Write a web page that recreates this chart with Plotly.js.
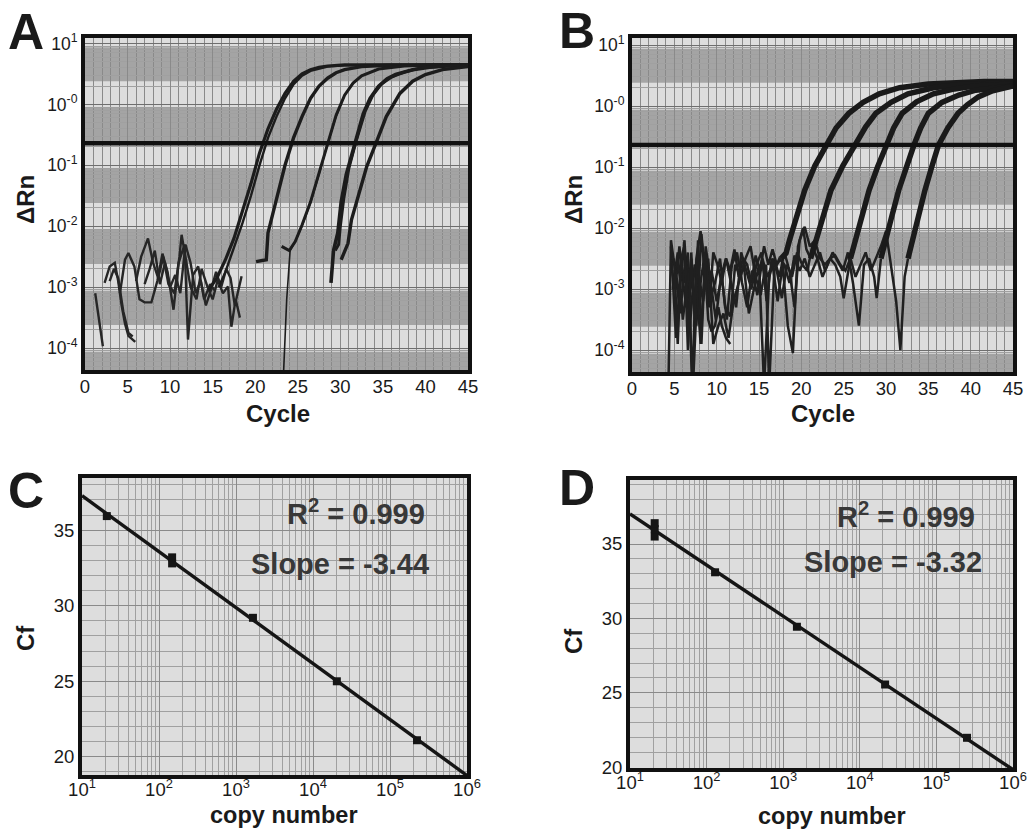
<!DOCTYPE html>
<html>
<head>
<meta charset="utf-8">
<script src="https://cdn.plot.ly/plotly-3.0.1.min.js"></script>
<style>
html,body{margin:0;padding:0;background:#fff;}
#chart{width:1033px;height:832px;}
</style>
</head>
<body>
<div id="chart"></div>
<script>
// ---------- Panel A : amplification curves, cycle vs log10(ΔRn) ----------
const A_g1a_x = [14.5,15.5,16.5,17.5,18.5,19.5,20.5,21.5,22.5,23.5,24.5,25.5,26.5,27.5,28.5,30.5,33.5,36.5,40.5,45];
const A_g1a_y = [-3.05,-2.85,-2.55,-2.2,-1.75,-1.3,-0.8,-0.4,-0.08,0.18,0.38,0.5,0.57,0.61,0.63,0.65,0.65,0.65,0.65,0.65];
const A_g1b_x = [15.7,16.5,17.5,18.5,19.5,20.5,21.5,22.5,23.5,24.5,25.5,26.5,28.5,30.5,35.5,40.5,45];
const A_g1b_y = [-3.0,-2.75,-2.35,-1.95,-1.5,-1.0,-0.55,-0.2,0.1,0.33,0.47,0.55,0.62,0.64,0.65,0.65,0.65];
const A_g2_x = [20.1,21.3,21.5,22.5,23.5,24.5,25.5,26.5,27.5,28.5,29.5,30.5,32.5,35.5,40.5,45];
const A_g2_y = [-2.58,-2.55,-2.11,-1.55,-1.0,-0.55,-0.2,0.1,0.3,0.43,0.52,0.57,0.62,0.64,0.65,0.65];
const A_g3a_x = [23.3,23.7,24.1,24.7,25.5,26.5,27.5,28.5,29.5,30.5,31.5,32.5,34.5,37.5,41.5,45];
const A_g3a_y = [-4.5,-3.2,-2.4,-2.25,-2.0,-1.62,-1.15,-0.65,-0.2,0.15,0.35,0.47,0.58,0.63,0.65,0.65];
const A_g3b_x = [23.1,24.0,24.7,25.5,26.5,27.5,28.5,29.5,30.5,31.5,32.5,34.5,37.5,41.5,45];
const A_g3b_y = [-2.33,-2.4,-2.25,-1.98,-1.6,-1.12,-0.62,-0.18,0.15,0.35,0.47,0.58,0.63,0.65,0.65];
const A_g4a_x = [28.9,29.2,29.7,30.1,30.7,31.7,32.7,33.5,34.5,35.5,36.5,38.5,40.5,42.5,45];
const A_g4a_y = [-2.93,-2.4,-2.11,-1.6,-1.15,-0.64,-0.15,0.1,0.3,0.42,0.49,0.57,0.61,0.63,0.64];
const A_g4b_x = [29.4,29.8,30.0,30.4,31.0,31.9,32.9,33.8,34.8,36.0,37.5,39.5,42.5,45];
const A_g4b_y = [-2.4,-2.3,-2.0,-1.55,-1.05,-0.58,-0.12,0.15,0.33,0.45,0.53,0.6,0.63,0.64];
const A_g5_x = [30.1,30.9,31.3,32.0,33.1,34.2,35.4,37.0,38.5,40.0,42.0,45];
const A_g5_y = [-2.55,-2.28,-1.9,-1.57,-1.02,-0.63,-0.2,0.18,0.38,0.49,0.57,0.62];
// baseline noise
const A_n1_x = [1.2,1.5,1.8,2.1];
const A_n1_y = [-3.1,-3.4,-3.7,-3.97];
const A_n2_x = [2.3,2.9,3.5,3.9,4.3,4.7,5.1,5.5,5.9];
const A_n2_y = [-2.93,-2.66,-2.6,-2.9,-3.3,-3.6,-3.8,-3.85,-3.9];
const A_n3_x = [4.1,4.7,5.1,5.8,6.4,7.0,7.8,8.5,9.1,9.7,10.4,11.0,11.7,12.1,12.7,13.3,14.0,14.7,15.2];
const A_n3_y = [-3.1,-2.55,-2.44,-2.66,-3.2,-3.25,-3.25,-2.9,-2.45,-2.75,-3.37,-2.6,-2.3,-3.86,-2.8,-2.66,-3.2,-2.95,-3.05];
const A_n4_x = [6.0,6.6,7.4,8.0,8.6,9.2,9.8,10.5,11.1,11.35,11.8,12.4,13.1,13.7,14.4,15.0,15.6,16.2,16.8,17.2,17.7,18.2];
const A_n4_y = [-2.9,-2.5,-2.2,-2.6,-2.85,-2.5,-2.95,-3.1,-2.5,-2.14,-2.5,-3.0,-3.2,-2.7,-3.0,-3.2,-2.88,-3.1,-2.99,-3.65,-3.2,-3.5];
const A_n5_x = [7.0,7.6,8.2,8.8,9.4,10.0,10.6,11.2,11.8,12.4,13.0,13.6,14.2,14.8,15.4,16.0,16.6,17.1,17.6,18.4];
const A_n5_y = [-2.95,-2.7,-2.4,-2.95,-2.6,-3.0,-2.8,-3.1,-2.3,-2.6,-3.1,-2.9,-3.3,-3.05,-2.75,-3.0,-2.7,-2.85,-3.3,-2.82];
const A_n6_x = [2.9,3.4,3.9,4.5,5.1,5.6];
const A_n6_y = [-2.9,-2.7,-2.85,-3.4,-3.75,-3.81];
const A_threshold = 0.23;

// ---------- Panel B ----------
const B_g1_x = [17.6,18.2,18.6,19.6,20.4,21.6,22.9,24.1,25.6,27.3,29.2,31.6,35.0,38.6,41.6,45];
const B_g1_y = [-2.5,-2.41,-2.2,-1.75,-1.38,-0.98,-0.64,-0.36,-0.12,0.06,0.2,0.3,0.36,0.39,0.4,0.4];
const B_g2_x = [21.1,21.7,22.6,23.5,24.9,26.3,27.6,28.8,30.6,32.6,35.6,38.6,41.6,45];
const B_g2_y = [-2.5,-2.2,-1.8,-1.38,-0.98,-0.64,-0.34,-0.12,0.06,0.2,0.3,0.35,0.37,0.38];
const B_g3_x = [25.8,26.4,27.2,28.0,29.0,30.0,30.9,31.9,33.6,35.6,38.1,40.6,42.6,45];
const B_g3_y = [-2.5,-2.2,-1.8,-1.38,-1.0,-0.64,-0.36,-0.12,0.07,0.2,0.28,0.33,0.35,0.36];
const B_g4_x = [29.4,29.9,30.7,31.5,32.4,33.3,34.1,35.0,36.6,38.6,40.6,42.6,45];
const B_g4_y = [-2.5,-2.2,-1.8,-1.38,-1.0,-0.64,-0.36,-0.12,0.06,0.18,0.26,0.3,0.33];
const B_g5_x = [32.6,33.1,33.8,34.6,35.4,36.2,37.3,38.5,39.6,40.9,42.6,44.4,45];
const B_g5_y = [-2.5,-2.2,-1.8,-1.38,-1.0,-0.64,-0.36,-0.12,0.02,0.15,0.25,0.32,0.33];
const B_n1_x = [4.6,5.1,5.6,6.1,6.6,7.1,7.6,8.1,8.6,9.1,9.6,10.1,10.6,11.1,11.6,12.1,12.6,13.1,13.6,14.1,14.6,15.1,15.6,16.1,16.6,17.1,17.6];
const B_n1_y = [-2.6,-3.0,-2.3,-2.9,-2.4,-4.6,-2.5,-2.05,-2.7,-3.3,-2.4,-2.6,-2.9,-2.5,-2.7,-2.35,-2.8,-2.5,-2.6,-2.9,-2.45,-2.7,-2.3,-2.6,-2.35,-2.6,-2.5];
const B_n2_x = [4.6,5.2,5.8,6.4,7.0,7.6,8.2,8.8,9.4,10.0,10.6,11.2,11.8,12.4,13.0,13.6,14.2,14.8,15.4,16.0,16.6,17.2,17.8,18.4,19.0,19.6,20.2,20.6,21.1];
const B_n2_y = [-2.3,-3.8,-2.6,-3.3,-2.5,-3.6,-2.1,-3.0,-2.7,-3.2,-2.8,-3.5,-2.6,-2.4,-2.9,-3.3,-2.7,-3.1,-2.5,-2.8,-2.6,-3.2,-2.6,-3.6,-4.05,-2.3,-2.0,-2.35,-2.5];
const B_n3_x = [4.8,5.4,6.0,6.6,7.2,7.8,8.4,9.0,9.6,10.2,10.8,11.4,12.0,12.6,13.2,13.8,14.4,15.0,15.6,16.2,16.8,17.4,18.0,18.6,19.2,19.8,20.4,21.0,21.6,22.2,22.8,23.4,24.0,24.6,25.0,25.8];
const B_n3_y = [-3.0,-2.4,-3.5,-2.8,-4.6,-2.7,-3.2,-2.5,-3.9,-3.6,-3.4,-3.8,-3.2,-2.9,-2.6,-3.4,-3.0,-2.6,-4.6,-2.8,-2.5,-2.8,-2.4,-2.7,-3.3,-2.2,-1.98,-2.3,-2.2,-2.5,-2.6,-2.5,-2.6,-2.8,-3.15,-2.5];
const B_n4_x = [5.1,5.7,6.3,6.9,7.5,8.1,8.7,9.3,9.9,10.5,11.1,11.7,12.3,12.9,13.5,14.1,14.7,15.3,15.9,16.5,17.1,17.7,18.3,18.9,19.5,20.1,20.7,21.3,21.9,22.5,23.1,23.7,24.3,24.9,25.5,26.1,26.8,27.4,28.0,28.6,28.9,29.4];
const B_n4_y = [-2.7,-3.4,-2.5,-3.0,-2.6,-3.9,-2.3,-2.9,-3.5,-2.8,-2.5,-2.9,-3.3,-2.4,-2.7,-3.0,-2.6,-2.4,-3.2,-2.5,-2.7,-3.15,-2.6,-2.8,-2.4,-2.6,-2.7,-2.3,-2.5,-2.8,-2.6,-2.4,-2.55,-2.7,-2.4,-2.9,-3.6,-2.6,-2.5,-2.8,-3.15,-2.5];
const B_n5_x = [4.9,5.6,6.2,6.8,7.4,8.0,8.6,9.2,9.8,10.4,11.0,11.6,12.2,12.8,13.4,14.0,14.6,15.2,15.8,16.2,16.8,17.4,18.0,18.6,19.2,19.8,20.4,21.0,21.6,22.2,22.8,23.4,24.0,24.6,25.2,25.8,26.4,27.0,27.6,28.2,28.8,29.4,30.0,30.6,31.2,31.7,32.2,32.6];
const B_n5_y = [-2.5,-3.1,-2.2,-3.7,-2.6,-3.0,-2.4,-3.2,-2.9,-2.5,-3.3,-3.45,-2.6,-2.8,-2.5,-2.3,-2.8,-3.1,-2.6,-4.6,-2.7,-2.5,-2.6,-2.9,-2.45,-2.7,-2.5,-2.8,-2.6,-2.4,-2.7,-2.5,-2.45,-2.6,-2.7,-2.5,-2.8,-2.6,-2.4,-2.7,-2.5,-2.3,-2.05,-2.6,-3.2,-4.0,-2.8,-2.5];
const B_n6_x = [4.3,4.6,5.0,5.4,5.8,6.2,6.6,7.0,7.4,7.8,8.2,8.6,9.0,9.4,9.8,10.2,10.6,11.1,11.6];
const B_n6_y = [-4.6,-2.2,-2.6,-3.9,-2.5,-2.3,-4.0,-2.4,-3.5,-2.2,-3.9,-2.6,-3.5,-3.7,-3.6,-3.3,-3.6,-3.8,-3.9];
const B_threshold = 0.23;

// ---------- Panels C and D : standard curves ----------
const C_copies = [21, 148, 148, 1660, 20400, 224000];
const C_cf     = [35.93, 32.8, 33.2, 29.2, 25.0, 21.1];
const D_copies = [21, 21, 21, 129, 1510, 21400, 251000];
const D_cf     = [35.5, 36.0, 36.4, 33.1, 29.44, 25.56, 21.98];
const C_text = ['R<sup>2</sup> = 0.999', 'Slope = -3.44'];
const D_text = ['R<sup>2</sup> = 0.999', 'Slope = -3.32'];

const cycleTicks = [0,5,10,15,20,25,30,35,40,45];
const rnTickVals = [1e-4,1e-3,1e-2,1e-1,1,10];
const rnTickText = ['10<sup>-4</sup>','10<sup>-3</sup>','10<sup>-2</sup>','10<sup>-1</sup>','10<sup>-0</sup>','10<sup>1</sup>'];
const copyTickVals = [1e1,1e2,1e3,1e4,1e5,1e6];
const copyTickText = ['10<sup>1</sup>','10<sup>2</sup>','10<sup>3</sup>','10<sup>4</sup>','10<sup>5</sup>','10<sup>6</sup>'];

// ---------- build ----------
const FONT = 'Arial, "Liberation Sans", Helvetica, sans-serif';
const lin = a => a.map(v => Math.pow(10, v));
const traces = [];
function line(x, ylog, ax, w, col) {
  traces.push({type:'scatter', mode:'lines', x:x, y:lin(ylog), xaxis:ax[0], yaxis:ax[1],
    line:{color:col||'#1c1c1c', width:w, shape:'linear'}, hoverinfo:'skip', cliponaxis:true});
}
const axA = ['x','y'], axB = ['x2','y2'];
[[A_n1_x,A_n1_y],[A_n2_x,A_n2_y],[A_n3_x,A_n3_y],[A_n4_x,A_n4_y],[A_n5_x,A_n5_y],[A_n6_x,A_n6_y]]
  .forEach(p => line(p[0], p[1], axA, 2.4, '#262626'));
line(A_g1a_x, A_g1a_y, axA, 3.2);
line(A_g1b_x, A_g1b_y, axA, 2.4);
line(A_g2_x, A_g2_y, axA, 3.4);
line(A_g3a_x, A_g3a_y, axA, 1.6);
line(A_g3b_x, A_g3b_y, axA, 3.0);
line(A_g4a_x, A_g4a_y, axA, 3.6);
line(A_g4b_x, A_g4b_y, axA, 3.0);
line(A_g5_x, A_g5_y, axA, 3.4);

[[B_n1_x,B_n1_y],[B_n2_x,B_n2_y],[B_n3_x,B_n3_y],[B_n4_x,B_n4_y],[B_n5_x,B_n5_y],[B_n6_x,B_n6_y]]
  .forEach(p => line(p[0], p[1], axB, 2.5, '#202020'));
[[B_g1_x,B_g1_y],[B_g2_x,B_g2_y],[B_g3_x,B_g3_y],[B_g4_x,B_g4_y],[B_g5_x,B_g5_y]]
  .forEach(p => line(p[0], p[1], axB, 5.5, '#1a1a1a'));

function fit(copies, cf) {
  const lx = copies.map(v => Math.log10(v));
  const n = lx.length;
  const mx = lx.reduce((s,v)=>s+v,0)/n, my = cf.reduce((s,v)=>s+v,0)/n;
  let sxy=0, sxx=0;
  for (let i=0;i<n;i++){ sxy += (lx[i]-mx)*(cf[i]-my); sxx += (lx[i]-mx)*(lx[i]-mx); }
  const b = sxy/sxx, a = my - b*mx;
  return {a:a, b:b};
}
function stdCurve(copies, cf, xa, ya) {
  const f = fit(copies, cf);
  const ends = [copyTickVals[0], copyTickVals[copyTickVals.length-1]];
  traces.push({type:'scatter', mode:'lines', x:ends, y:ends.map(v => f.a + f.b*Math.log10(v)),
    xaxis:xa, yaxis:ya, line:{color:'#151515', width:3.4}, hoverinfo:'skip'});
  traces.push({type:'scatter', mode:'markers', x:copies, y:cf, xaxis:xa, yaxis:ya,
    marker:{symbol:'square', size:8, color:'#151515'}, hoverinfo:'skip'});
}
stdCurve(C_copies, C_cf, 'x3', 'y3');
stdCurve(D_copies, D_cf, 'x4', 'y4');

const W = 1033, H = 832;
const dx = (a,b) => [a/W, b/W];
const dy = (top,bot) => [1-bot/H, 1-top/H];
const GRID = '#8a8a8a', MINOR = '#a0a0a0';
const tickFont = {family:FONT, size:18.5, color:'#1a1a1a'};
const frame = {showline:true, mirror:true, linewidth:4, linecolor:'#111', ticks:'', zeroline:false,
  tickfont:tickFont, fixedrange:true};

function cycleAxis(domain, anchor) {
  return Object.assign({}, frame, {domain:domain, anchor:anchor, range:[0,45], tickvals:cycleTicks,
    ticklabelstandoff:-3, showgrid:true, gridcolor:GRID, gridwidth:1,
    minor:{dtick:1, tick0:0, showgrid:true, gridcolor:GRID, gridwidth:1}});
}
function rnAxis(domain, anchor, rng) {
  return Object.assign({}, frame, {domain:domain, anchor:anchor, type:'log', range:rng,
    tickvals:rnTickVals, ticktext:rnTickText, showgrid:true, gridcolor:'#6e6e6e', gridwidth:1,
    tickfont:{family:FONT, size:17.5, color:'#1a1a1a'},
    minor:{dtick:'D1', showgrid:true, gridcolor:MINOR, gridwidth:1}});
}
function copyAxis(domain, anchor) {
  return Object.assign({}, frame, {domain:domain, anchor:anchor, type:'log', range:[1,6],
    tickvals:copyTickVals, ticktext:copyTickText, showgrid:true, gridcolor:GRID, gridwidth:1,
    ticklabelstandoff:-5,
    minor:{dtick:'D1', showgrid:true, gridcolor:MINOR, gridwidth:1}});
}
function cfAxis(domain, anchor, rng) {
  return Object.assign({}, frame, {domain:domain, anchor:anchor, range:rng, dtick:5, tick0:0,
    showgrid:true, gridcolor:GRID, gridwidth:1,
    minor:{dtick:1, showgrid:true, gridcolor:MINOR, gridwidth:1}});
}

// darker horizontal bands of the scanned log grid (below grid lines)
const shapes = [];
[1,0,-1,-2,-3,-4].forEach(n => {
  ['y','y2'].forEach((ya,i) => {
    shapes.push({type:'rect', layer:'below', xref:(i?'x2':'x')+' domain', x0:0, x1:1, yref:ya,
      y0:Math.pow(10,n-0.62), y1:Math.pow(10,n-0.06), fillcolor:'#a4a4a4', line:{width:0}});
  });
});
// threshold lines
shapes.push({type:'line', xref:'x domain', x0:0, x1:1, yref:'y', y0:A_threshold, y1:A_threshold, line:{color:'#111', width:4.5}});
shapes.push({type:'line', xref:'x2 domain', x0:0, x1:1, yref:'y2', y0:B_threshold, y1:B_threshold, line:{color:'#111', width:4.5}});

const ann = [];
function txt(t, x, y, size, extra) {
  ann.push(Object.assign({text:t, x:x/W, y:1-y/H, xref:'paper', yref:'paper', showarrow:false,
    xanchor:'center', yanchor:'middle', font:{family:FONT, size:size, color:'#1a1a1a'}}, extra||{}));
}
txt('<b>A</b>', 26, 32, 50);
txt('<b>B</b>', 577, 31, 50);
txt('<b>C</b>', 26, 491, 50);
txt('<b>D</b>', 577, 488, 50);
txt('<b>Cycle</b>', 278, 413, 24);
txt('<b>Cycle</b>', 823, 413, 24);
txt('<b>ΔRn</b>', 25, 200, 24, {textangle:-90});
txt('<b>ΔRn</b>', 573, 200, 24, {textangle:-90});
txt('<b>copy number</b>', 284, 815, 23.5);
txt('<b>copy number</b>', 832, 816, 23.5);
txt('<b>Cf</b>', 25, 638, 24, {textangle:-90});
txt('<b>Cf</b>', 573, 641, 24, {textangle:-90});
const statFont = {family:FONT, size:29, color:'#383838'};
txt('<b>'+C_text[0]+'</b>', 427, 512, 29, {xanchor:'right', font:statFont});
txt('<b>'+C_text[1]+'</b>', 431, 564, 29, {xanchor:'right', font:statFont});
txt('<b>'+D_text[0]+'</b>', 977, 515, 29, {xanchor:'right', font:statFont});
txt('<b>'+D_text[1]+'</b>', 984, 562, 29, {xanchor:'right', font:statFont});

const layout = {
  width:W, height:H, margin:{l:0,r:0,t:0,b:0}, showlegend:false,
  paper_bgcolor:'#ffffff', plot_bgcolor:'#dddddd', font:{family:FONT, color:'#1a1a1a'},
  xaxis: cycleAxis(dx(85,468), 'y'),
  yaxis: rnAxis(dy(38,370), 'x', [-4.36, 1.09]),
  xaxis2: cycleAxis(dx(632,1013), 'y2'),
  yaxis2: rnAxis(dy(38,372), 'x2', [-4.36, 1.115]),
  xaxis3: copyAxis(dx(82,467), 'y3'),
  yaxis3: cfAxis(dy(478,775), 'x3', [18.8, 38.45]),
  xaxis4: copyAxis(dx(630,1013), 'y4'),
  yaxis4: cfAxis(dy(480,768), 'x4', [19.95, 39.3]),
  shapes:shapes, annotations:ann
};
Plotly.newPlot('chart', traces, layout, {staticPlot:true, displayModeBar:false});
</script>
</body>
</html>
